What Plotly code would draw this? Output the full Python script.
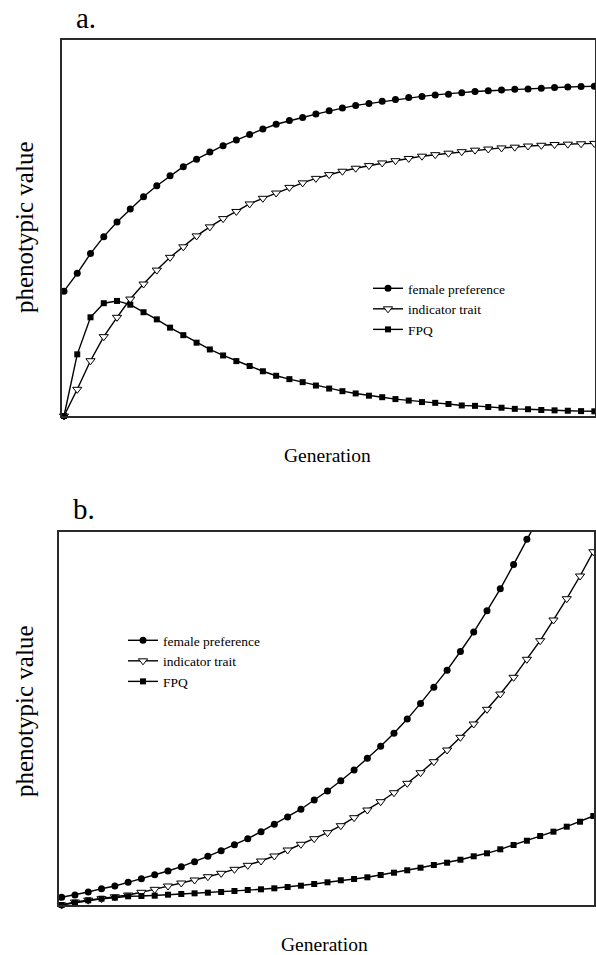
import plotly.graph_objects as go

# ---------------- data ----------------
generation = list(range(41))

a_female_preference = [33.2, 37.95, 43.2, 47.7, 51.6, 55.05, 58.3, 61.25, 63.9, 66.3, 68.3,
                       70.2, 71.9, 73.4, 74.9, 76.3, 77.6, 78.6, 79.4, 80.3, 81.2, 81.9,
                       82.6, 83.1, 83.7, 84.2, 84.7, 85.0, 85.4, 85.6, 86.0, 86.3, 86.5,
                       86.7, 86.9, 87.0, 87.2, 87.4, 87.5, 87.6, 87.7]
a_indicator_trait = [0, 7.1, 14.7, 21.1, 26.25, 31.1, 35.1, 38.8, 42.2, 45.0, 47.9, 50.3,
                     52.5, 54.4, 56.4, 57.9, 59.3, 60.8, 62.0, 63.2, 64.2, 65.1, 65.9, 66.6,
                     67.3, 67.9, 68.5, 69.1, 69.5, 69.9, 70.3, 70.7, 71.0, 71.3, 71.5, 71.8,
                     72.0, 72.2, 72.3, 72.4, 72.5]
a_fpq = [0, 16.4, 26.25, 30.0, 30.6, 29.6, 27.6, 25.7, 23.5, 21.5, 19.5, 17.7, 16.1, 14.6,
         13.3, 11.9, 10.7, 9.8, 9.0, 8.1, 7.3, 6.6, 6.0, 5.4, 5.0, 4.5, 4.1, 3.7, 3.5, 3.2,
         2.8, 2.7, 2.4, 2.2, 1.9, 1.8, 1.6, 1.5, 1.4, 1.3, 1.25]

b_female_preference = [2.06, 2.68, 3.48, 4.37, 5.09, 6.08, 7.05, 8.12, 9.11, 10.26, 11.6,
                       13.05, 14.55, 16.15, 17.76, 19.64, 21.62, 23.57, 25.66, 28.13, 30.54,
                       33.3, 36.16, 39.3, 42.5, 46.0, 49.8, 54.0, 58.3, 62.9, 67.9, 73.1,
                       78.8, 84.7, 91.2, 98.0, 104.5]
b_indicator_trait = [0, 0.8, 1.3, 1.7, 2.2, 2.68, 3.4, 4.2, 5.09, 5.89, 6.7, 7.58, 8.49,
                     9.56, 10.63, 11.79, 13.13, 14.73, 16.26, 17.76, 19.37, 21.24, 23.39,
                     25.45, 27.67, 30.08, 32.6, 35.44, 38.39, 41.52, 44.92, 48.49, 52.42,
                     56.52, 61.0, 65.82, 70.8, 76.35, 82.05, 88.13, 94.64]
b_fpq = [0, 0.62, 1.26, 1.69, 1.96, 2.33, 2.41, 2.49, 2.76, 2.95, 3.13, 3.3, 3.48, 3.75,
         4.02, 4.2, 4.47, 4.82, 5.17, 5.63, 6.08, 6.62, 6.96, 7.42, 8.04, 8.65, 9.3, 9.99,
         10.72, 11.33, 12.13, 13.05, 13.85, 14.92, 16.07, 17.22, 18.48, 19.64, 20.98,
         22.31, 23.84]

series_names = ["female preference", "indicator trait", "FPQ"]
panel_labels = ["a.", "b."]
x_title = "Generation"
y_title = "phenotypic value"

# ---------------- figure ----------------
W, H = 596, 955
FONT = "Liberation Serif, Times New Roman, serif"

def px_x(p):
    return p / W

def px_y(p):
    return 1 - p / H

styles = [
    dict(symbol="circle", size=7, color="black", line=dict(width=0)),
    dict(symbol="triangle-down", size=8, color="white", line=dict(width=1, color="black")),
    dict(symbol="square", size=6, color="black", line=dict(width=0)),
]

fig = go.Figure()

panels = [
    ("x", "y", "legend", [a_female_preference, a_indicator_trait, a_fpq]),
    ("x2", "y2", "legend2", [b_female_preference, b_indicator_trait, b_fpq]),
]
for xa, ya, lg, series in panels:
    for name, vals, st in zip(series_names, series, styles):
        clip = max(vals) > 100
        fig.add_trace(go.Scatter(
            x=generation[:len(vals)], y=vals, name=name, mode="lines+markers",
            xaxis=xa, yaxis=ya, legend=lg,
            line=dict(color="black", width=1.4),
            marker=st, cliponaxis=clip,
        ))

axis_common = dict(showline=True, mirror=True, linecolor="#2a2a2a", linewidth=1.5,
                   showgrid=False, zeroline=False, showticklabels=False, ticks="")

fig.update_layout(
    width=W, height=H, autosize=False,
    margin=dict(l=0, r=0, t=0, b=0),
    paper_bgcolor="white", plot_bgcolor="white",
    font=dict(family=FONT, color="black"),
    xaxis=dict(domain=[px_x(62), px_x(595)], range=[-0.15, 40.05], anchor="y", **axis_common),
    yaxis=dict(domain=[px_y(416), px_y(40)], range=[0, 100], anchor="x", **axis_common),
    xaxis2=dict(domain=[px_x(59), px_x(594)], range=[-0.2, 40.05], anchor="y2", **axis_common),
    yaxis2=dict(domain=[px_y(905), px_y(531.7)], range=[0, 100], anchor="x2", **axis_common),
    legend=dict(x=px_x(368), y=px_y(273), xanchor="left", yanchor="top",
                bgcolor="rgba(0,0,0,0)", font=dict(size=13.5, family=FONT),
                tracegroupgap=0, itemwidth=30),
    legend2=dict(x=px_x(123), y=px_y(625), xanchor="left", yanchor="top",
                 bgcolor="rgba(0,0,0,0)", font=dict(size=13.5, family=FONT),
                 tracegroupgap=0, itemwidth=30),
    showlegend=True,
)

annotations = []
for label, (lx, ly) in zip(panel_labels, [(74, 18), (71, 509)]):
    annotations.append(dict(text=label, x=px_x(lx), y=px_y(ly), xref="paper", yref="paper",
                            xanchor="left", yanchor="middle", showarrow=False,
                            font=dict(size=29, family=FONT)))
for cy in (228, 712):
    annotations.append(dict(text=y_title, x=px_x(24), y=px_y(cy), xref="paper", yref="paper",
                            xanchor="center", yanchor="middle", textangle=-90, showarrow=False,
                            font=dict(size=25, family=FONT)))
for cx, cy in ((327, 455), (324, 944)):
    annotations.append(dict(text=x_title, x=px_x(cx), y=px_y(cy), xref="paper", yref="paper",
                            xanchor="center", yanchor="middle", showarrow=False,
                            font=dict(size=19.5, family=FONT)))
fig.update_layout(annotations=annotations)

fig.write_html(
    "out.html",
    config={"displayModeBar": False},
    post_script="document.body.style.margin='0';document.body.style.overflow='hidden';",
)
